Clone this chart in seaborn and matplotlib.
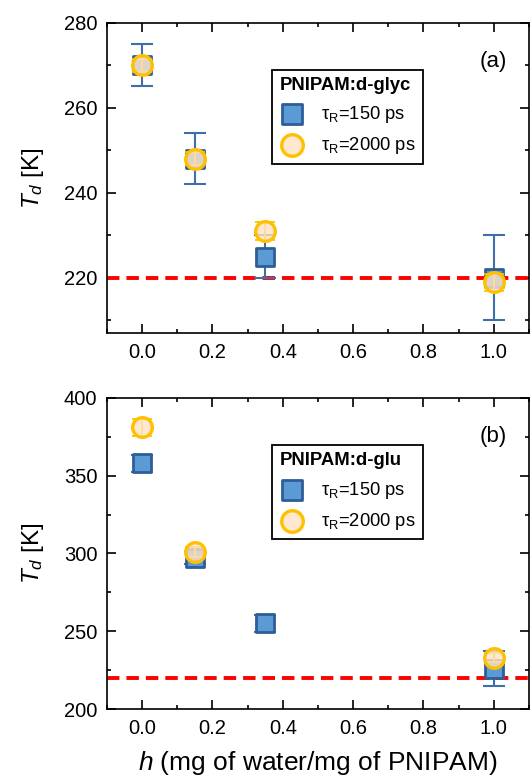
import matplotlib
matplotlib.use("Agg")
import matplotlib.pyplot as plt
import seaborn as sns
import pandas as pd
import numpy as np
from matplotlib.ticker import MultipleLocator

# ---- data ----
h = [0.0, 0.15, 0.35, 1.0]

# panel (a) PNIPAM:d-glyc
glyc_150 = [270, 248, 225, 220]
glyc_150_err = [5, 6, 5, 10]
glyc_2000 = [270, 248, 231, 219]
glyc_2000_err = [1.5, 1.5, 2, 2]

# panel (b) PNIPAM:d-glu
glu_h_150 = [0.0, 0.15, 0.35, 1.0]
glu_150 = [358, 297, 255, 226]
glu_150_err = [5.5, 4, 5.5, 11]
glu_h_2000 = [0.0, 0.15, 1.0]
glu_2000 = [381, 301, 233]
glu_2000_err = [5.5, 3, 3]

ref_temp = 220
panel_titles = ["PNIPAM:d-glyc", "PNIPAM:d-glu"]
panel_tags = ["(a)", "(b)"]
series_labels = ["τ$_{\\rm R}$=150 ps", "τ$_{\\rm R}$=2000 ps"]

sns.set_theme(style="ticks")
plt.rcParams["font.family"] = ["Liberation Sans", "DejaVu Sans"]
plt.rcParams["mathtext.fontset"] = "custom"
plt.rcParams["mathtext.rm"] = "Liberation Sans"
plt.rcParams["mathtext.it"] = "Liberation Sans:italic"
plt.rcParams["mathtext.bf"] = "Liberation Sans:bold"
for k in ["text.color", "axes.labelcolor", "xtick.color", "ytick.color",
          "axes.edgecolor"]:
    plt.rcParams[k] = "black"

SQ_FACE = "#5B9BD5"
SQ_EDGE = "#2F5E97"
ERR_BLUE = "#3D6FA8"
CI_FACE = (1.0, 0.89, 0.77, 0.80)
CI_EDGE = "#FFC000"

fig = plt.figure(figsize=(5.3, 7.8), dpi=100)
ax1 = fig.add_axes([0.2019, 0.573, 0.796, 0.398])
ax2 = fig.add_axes([0.2019, 0.091, 0.796, 0.399])


def draw(ax, hx1, y1, e1, hx2, y2, e2, ylim, ymaj, ymin, title, tag):
    ax.axhline(ref_temp, color="#FF0000", lw=2.8, dashes=(3.2, 1.8), zorder=1)
    ax.errorbar(hx1, y1, yerr=e1, fmt="none", ecolor=ERR_BLUE, elinewidth=1.5,
                capsize=8, capthick=1.5, zorder=2)
    d1 = pd.DataFrame({"h": hx1, "T": y1})
    sns.scatterplot(data=d1, x="h", y="T", ax=ax, marker="s", s=160,
                    color=SQ_FACE, edgecolor=SQ_EDGE, linewidth=2.0,
                    label=series_labels[0], zorder=3)
    ax.errorbar(hx2, y2, yerr=e2, fmt="none", ecolor=CI_EDGE, elinewidth=1.3,
                capsize=7, capthick=1.3, zorder=4)
    d2 = pd.DataFrame({"h": hx2, "T": y2})
    sns.scatterplot(data=d2, x="h", y="T", ax=ax, marker="o", s=200,
                    color=CI_FACE, edgecolor=CI_EDGE, linewidth=2.4,
                    label=series_labels[1], zorder=5)
    ax.set_xlim(-0.1, 1.1)
    ax.set_ylim(*ylim)
    ax.xaxis.set_major_locator(MultipleLocator(0.2))
    ax.xaxis.set_minor_locator(MultipleLocator(0.1))
    ax.yaxis.set_major_locator(MultipleLocator(ymaj))
    ax.yaxis.set_minor_locator(MultipleLocator(ymin))
    ax.tick_params(which="both", direction="in", top=True, right=True,
                   color="black", width=1.2, labelcolor="black")
    ax.tick_params(which="major", length=6.5, labelsize=14.5, pad=7)
    ax.tick_params(which="minor", length=3.2)
    for s in ax.spines.values():
        s.set_linewidth(1.2)
        s.set_color("black")
    ax.set_xticklabels([f"{v:.1f}" for v in ax.get_xticks()])
    ax.set_ylabel(r"$T_d$ [K]", fontsize=17.5, labelpad=13)
    ax.set_xlabel("")
    ax.text(0.915, 0.875, tag, transform=ax.transAxes, fontsize=16,
            ha="center", va="center")
    leg = ax.legend(loc="upper left", bbox_to_anchor=(0.391, 0.848),
                    title=title, fontsize=13.2, frameon=True, fancybox=False,
                    edgecolor="black", framealpha=1, borderpad=0.4,
                    handletextpad=0.9, labelspacing=0.55, handlelength=1.4,
                    borderaxespad=0, markerscale=1.1)
    leg.get_frame().set_linewidth(1.3)
    leg.get_title().set_fontweight("bold")
    leg.get_title().set_fontsize(13.3)
    leg._legend_box.align = "left"


draw(ax1, h, glyc_150, glyc_150_err, h, glyc_2000, glyc_2000_err,
     (207, 280), 20, 10, panel_titles[0], panel_tags[0])
draw(ax2, glu_h_150, glu_150, glu_150_err, glu_h_2000, glu_2000, glu_2000_err,
     (200, 400), 50, 25, panel_titles[1], panel_tags[1])

ax2.set_xlabel(r"$h$ (mg of water/mg of PNIPAM)", fontsize=19, labelpad=8)

fig.savefig("out.png", dpi=100)
